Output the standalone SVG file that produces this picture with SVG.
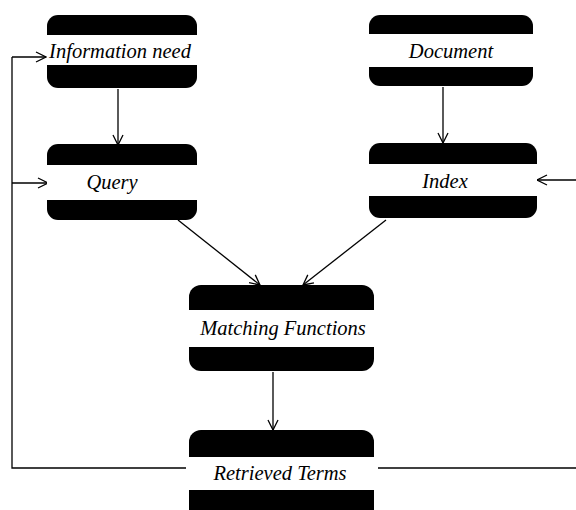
<svg xmlns="http://www.w3.org/2000/svg" width="576" height="510" viewBox="0 0 576 510">
<defs>
<style>
.blk{fill:#000}
.band{fill:#fff}
.lbl{font-family:"Liberation Serif",serif;font-style:italic;font-size:20.5px;fill:#000;text-anchor:middle}
.ln{stroke:#000;stroke-width:1.3;fill:none}
</style>
<marker id="ah" viewBox="0 0 12 12" refX="11" refY="6" markerWidth="12" markerHeight="12" markerUnits="userSpaceOnUse" orient="auto">
<path d="M1,1 L11,6 L1,11" fill="none" stroke="#000" stroke-width="1.3"/>
</marker>
</defs>
<rect width="576" height="510" fill="#fff"/>
<g id="connectors">
<path class="ln" d="M12,57 V468 H186"/>
<path class="ln" d="M378,468 H576"/>
<line class="ln" x1="12" y1="57" x2="46" y2="57" marker-end="url(#ah)"/>
<line class="ln" x1="12" y1="183" x2="48" y2="183" marker-end="url(#ah)"/>
<line class="ln" x1="576" y1="180" x2="537" y2="180" marker-end="url(#ah)"/>
<line class="ln" x1="118" y1="89" x2="118" y2="145" marker-end="url(#ah)"/>
<line class="ln" x1="443" y1="87" x2="443" y2="143" marker-end="url(#ah)"/>
<line class="ln" x1="178" y1="220" x2="260" y2="285" marker-end="url(#ah)"/>
<line class="ln" x1="386" y1="220" x2="303" y2="285" marker-end="url(#ah)"/>
<line class="ln" x1="273" y1="372" x2="273" y2="430" marker-end="url(#ah)"/>
</g>
<g id="information-need">
<rect class="blk" x="47" y="15" width="150" height="73" rx="11"/>
<rect class="band" x="47" y="35" width="150" height="30"/>
<text class="lbl" x="120" y="58">Information need</text>
</g>
<g id="document">
<rect class="blk" x="369" y="15" width="164" height="71" rx="11"/>
<rect class="band" x="369" y="34" width="164" height="33"/>
<text class="lbl" x="451" y="58">Document</text>
</g>
<g id="query">
<rect class="blk" x="47" y="144" width="150" height="76" rx="11"/>
<rect class="band" x="47" y="165" width="150" height="35"/>
<text class="lbl" x="112" y="189">Query</text>
</g>
<g id="index">
<rect class="blk" x="369" y="143" width="168" height="75" rx="11"/>
<rect class="band" x="369" y="164" width="168" height="32"/>
<text class="lbl" x="445" y="188">Index</text>
</g>
<g id="matching-functions">
<rect class="blk" x="189" y="285" width="185" height="86" rx="12"/>
<rect class="band" x="189" y="310" width="185" height="37"/>
<text class="lbl" x="283" y="335">Matching Functions</text>
</g>
<g id="retrieved-terms">
<rect class="blk" x="189" y="430" width="185" height="92" rx="12"/>
<rect class="band" x="189" y="457" width="185" height="33"/>
<text class="lbl" x="280" y="480">Retrieved Terms</text>
</g>
</svg>
